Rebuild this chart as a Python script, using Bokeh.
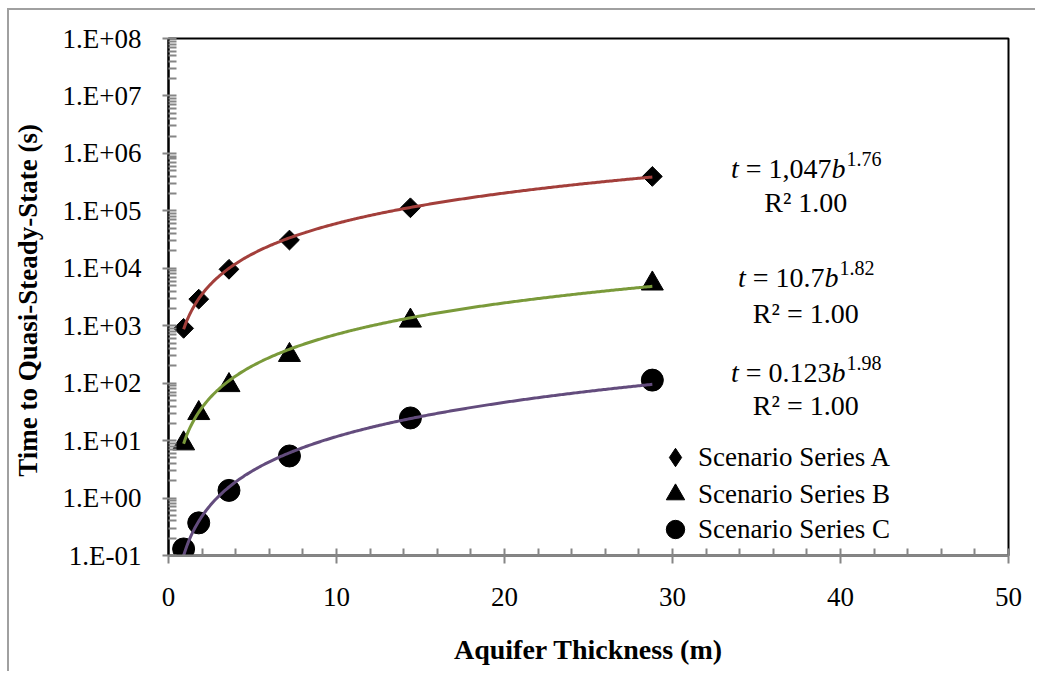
import numpy as np
from bokeh.plotting import figure
from bokeh.models import (Range1d, FixedTicker, CustomJSTickFormatter, Legend,
                          LegendItem, Label)
from bokeh.embed import file_html
from bokeh.resources import INLINE

# ---------------- data ----------------
thickness = [0.9, 1.8, 3.6, 7.2, 14.4, 28.8]
series_a = [900, 2900, 9600, 31000, 113000, 397000]
series_b = [8.9, 30, 92, 308, 1220, 5400]
series_c = [0.13, 0.37, 1.36, 5.4, 24.8, 113]
fit_coef = [1047, 10.7, 0.123]
fit_exp = [1.76, 1.82, 1.98]
coef_text = ["1,047", "10.7", "0.123"]
exp_text = ["1.76", "1.82", "1.98"]
r2_text = ["R\u00b2 1.00", "R\u00b2 = 1.00", "R\u00b2 = 1.00"]
series_names = ["Scenario Series A", "Scenario Series B", "Scenario Series C"]
x_title = "Aquifer Thickness (m)"
y_title = "Time to Quasi-Steady-State  (s)"
x_ticks = [0, 10, 20, 30, 40, 50]
x_minor = [2, 4, 6, 8, 12, 14, 16, 18, 22, 24, 26, 28, 32, 34, 36, 38, 42, 44, 46, 48]
y_ticks = [1e-1, 1e0, 1e1, 1e2, 1e3, 1e4, 1e5, 1e6, 1e7, 1e8]

line_colors = ["#A33F3B", "#7A9A3A", "#634C7D"]
SERIF = "Liberation Serif"

# page offset of the figure (outer chart border sits at 7/8 px)
OX, OY, BW = 7, 8, 2
W, H = 1037 - OX - BW, 673 - OY - BW
# frame edges in page px, converted to canvas px
FL, FR, FT, FB = 167 - OX - BW, 1008 - OX - BW, 38 - OY - BW, 555 - OY - BW

p = figure(width=W, height=H, x_range=Range1d(0, 50), y_range=Range1d(0.1, 1e8),
           y_axis_type="log", output_backend="svg", toolbar_location=None,
           min_border_left=FL, min_border_right=W - FR, min_border_top=FT,
           min_border_bottom=H - FB, background_fill_color="white",
           border_fill_color="white")
p.styles = {"margin-left": f"{OX}px", "margin-top": f"{OY}px",
            "border-left": f"{BW}px solid #A0A0A0",
            "border-top": f"{BW}px solid #A0A0A0"}
p.grid.visible = False
p.outline_line_color = "black"
p.outline_line_width = 2

# x axis
xa = p.xaxis[0]
xa.ticker = FixedTicker(ticks=x_ticks, minor_ticks=x_minor)
xa.axis_line_color = "#868686"
xa.axis_line_width = 2
xa.major_tick_line_color = "#868686"
xa.major_tick_line_width = 2
xa.minor_tick_line_color = "#868686"
xa.minor_tick_line_width = 2
xa.major_tick_in = 7
xa.major_tick_out = 8
xa.minor_tick_in = 7
xa.minor_tick_out = 0
xa.major_label_text_font = SERIF
xa.major_label_text_font_size = "27px"
xa.major_label_text_color = "black"
xa.major_label_standoff = 24
xa.axis_label = x_title
xa.axis_label_text_font = SERIF
xa.axis_label_text_font_style = "bold"
xa.axis_label_text_font_size = "28px"
xa.axis_label_text_color = "black"
xa.axis_label_standoff = 25

# y axis
ya = p.yaxis[0]
minor_y = [m * t for t in y_ticks[:-1] for m in range(2, 10)]
ya.ticker = FixedTicker(ticks=y_ticks, minor_ticks=minor_y)
ya.formatter = CustomJSTickFormatter(code="""
const e = Math.round(Math.log10(tick));
const s = e < 0 ? "-" : "+";
return "1.E" + s + String(Math.abs(e)).padStart(2, "0");
""")
ya.axis_line_color = "black"
ya.axis_line_width = 2
ya.major_tick_line_color = "#868686"
ya.major_tick_line_width = 2
ya.minor_tick_line_color = "#868686"
ya.minor_tick_line_width = 2
ya.major_tick_in = 8
ya.major_tick_out = 6
ya.minor_tick_in = 8
ya.minor_tick_out = 0
ya.major_label_text_font = SERIF
ya.major_label_text_font_size = "27px"
ya.major_label_text_color = "black"
ya.major_label_standoff = 21
ya.axis_label = y_title
ya.axis_label_text_font = SERIF
ya.axis_label_text_font_style = "bold"
ya.axis_label_text_font_size = "27px"
ya.axis_label_text_color = "black"
ya.axis_label_standoff = 17

# ---------------- markers ----------------
# diamond-shaped key for the legend, hidden underneath the rotated squares
ra_key = p.scatter(thickness, series_a, marker="diamond", size=13,
                   fill_color="black", line_color="black")
ra = p.scatter(thickness, series_a, marker="square", size=14, angle=np.pi / 4,
               fill_color="black", line_color="black")
rb = p.scatter(thickness, series_b, marker="triangle", size=22,
               fill_color="black", line_color="black")
rc = p.scatter(thickness, series_c, marker="circle", size=22,
               fill_color="black", line_color="black")

# ---------------- power trend lines ----------------
xs = np.linspace(thickness[0], thickness[-1], 300)
for c, e, col in zip(fit_coef, fit_exp, line_colors):
    p.line(xs, c * xs ** e, line_color=col, line_width=3)

# ---------------- legend (one per row for tight spacing) ----------------
G = 46
row_centers = [457 - OY - BW, 494 - OY - BW, 529 - OY - BW]
key_center_x = 674 - OX - BW
for name, r, cy in zip(series_names, [ra_key, rb, rc], row_centers):
    lg = Legend(items=[LegendItem(label=name, renderers=[r])],
                location=(key_center_x - G // 2 - FL, FB - (cy + G // 2)),
                glyph_width=G, glyph_height=G, spacing=0, label_standoff=0,
                padding=0, margin=0, border_line_alpha=0,
                background_fill_alpha=0, label_text_font=SERIF,
                label_text_font_size="27px", label_text_color="black")
    p.add_layout(lg)

# ---------------- equations ----------------
def px_x(px):
    return (px - OX - BW - FL) / (FR - FL) * 50.0

def px_y(py):
    return 10 ** (8 - (py - OY - BW - FT) / ((FB - FT) / 9.0))

REG = {",": 0.25, ".": 0.25, " ": 0.25, "=": 0.564}
def twidth(s, size):
    return sum(REG.get(ch, 0.5) for ch in s) * size

F, FS = 28, 20
center_px = 805
eq_base = [168, 277, 372]
r2_base = [202, 313, 405]
for i in range(3):
    mid = "= " + coef_text[i]
    wt = 0.278 * F + 0.25 * F
    wm = twidth(mid, F)
    wb = 0.5 * F
    ws = twidth(exp_text[i], FS)
    start = center_px - (wt + wm + wb + ws) / 2
    pieces = [("t", start, eq_base[i], F, "italic"),
              (mid, start + wt, eq_base[i], F, "normal"),
              ("b", start + wt + wm, eq_base[i], F, "italic"),
              (exp_text[i], start + wt + wm + wb + 1, eq_base[i] - 10, FS, "normal")]
    for txt, xp, yp, sz, st in pieces:
        p.add_layout(Label(x=px_x(xp), y=px_y(yp), text=txt, text_font=SERIF,
                           text_font_style=st, text_font_size=f"{sz}px",
                           text_align="left", text_baseline="alphabetic",
                           text_color="black"))
    p.add_layout(Label(x=px_x(center_px), y=px_y(r2_base[i]), text=r2_text[i],
                       text_font=SERIF, text_font_size=f"{F}px",
                       text_align="center", text_baseline="alphabetic",
                       text_color="black"))

open("out.html", "w").write(file_html(p, INLINE))
